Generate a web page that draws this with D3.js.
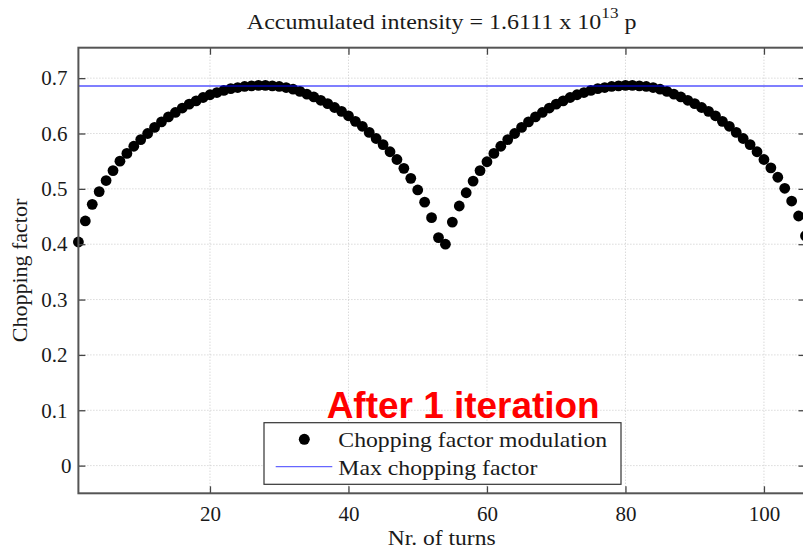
<!DOCTYPE html>
<html>
<head>
<meta charset="utf-8">
<script src="https://cdn.jsdelivr.net/npm/d3@7"></script>
<style>
  html, body { margin: 0; padding: 0; background: #fff; }
  svg { display: block; }
  text { font-family: "Liberation Serif", "Times New Roman", serif; fill: #1a1a1a; }
</style>
</head>
<body>
<div id="chart"></div>
<script>
// Data
const firstTurn = 1;
const lastTurn = 106;
const choppingFactor = [
  0.404, 0.442, 0.472, 0.495, 0.515, 0.533, 0.550, 0.564, 0.577, 0.589,
  0.600, 0.611, 0.621, 0.630, 0.638, 0.646, 0.653, 0.659, 0.665, 0.670,
  0.674, 0.678, 0.681, 0.683, 0.685, 0.686, 0.687, 0.687, 0.686, 0.685,
  0.683, 0.680, 0.676, 0.671, 0.666, 0.660, 0.654, 0.647, 0.640, 0.632,
  0.622, 0.613, 0.602, 0.591, 0.580, 0.567, 0.553, 0.537, 0.519, 0.498,
  0.476, 0.448, 0.412, 0.400, 0.440, 0.469, 0.493, 0.514, 0.533, 0.549,
  0.564, 0.577, 0.589, 0.600, 0.611, 0.621, 0.630, 0.638, 0.646, 0.653,
  0.659, 0.665, 0.670, 0.674, 0.678, 0.681, 0.683, 0.685, 0.686, 0.687,
  0.687, 0.686, 0.685, 0.683, 0.680, 0.676, 0.671, 0.666, 0.660, 0.654,
  0.647, 0.640, 0.632, 0.622, 0.613, 0.602, 0.591, 0.580, 0.567, 0.553,
  0.538, 0.521, 0.501, 0.478, 0.451, 0.415
];
const maxChoppingFactor = 0.686;
const xTicks = [20, 40, 60, 80, 100];
const yTicks = [0, 0.1, 0.2, 0.3, 0.4, 0.5, 0.6, 0.7];
const legendLabels = ["Chopping factor modulation", "Max chopping factor"];

const width = 803, height = 551;
const plot = { left: 78.4, top: 47.7, right: 805.5, bottom: 493.3 };

const svg = d3.select("#chart").append("svg")
  .attr("width", width)
  .attr("height", height);

const x = d3.scaleLinear().domain([firstTurn, lastTurn]).range([plot.left, plot.right]);
const y = d3.scaleLinear().domain([-0.05, 0.755]).range([plot.bottom, plot.top]);

const points = choppingFactor.map((v, i) => ({ turn: firstTurn + i, value: v }));

// stretch a text horizontally around an anchor so it matches the reference width
function stretchTo(sel, targetWidth, anchorX) {
  const bb = sel.node().getBBox();
  const k = targetWidth / bb.width;
  sel.attr("transform", `translate(${anchorX},0) scale(${k},1) translate(${-anchorX},0)`);
}

// grid
const grid = svg.append("g").attr("class", "grid")
  .attr("stroke", "#c8c8c8").attr("stroke-width", 1).attr("stroke-dasharray", "1,2");
grid.selectAll(".gx").data(xTicks).enter().append("line")
  .attr("x1", d => x(d)).attr("x2", d => x(d))
  .attr("y1", plot.top).attr("y2", plot.bottom);
grid.selectAll(".gy").data(yTicks).enter().append("line")
  .attr("x1", plot.left).attr("x2", plot.right)
  .attr("y1", d => y(d)).attr("y2", d => y(d));

// data points
svg.append("g").attr("class", "points")
  .selectAll("circle")
  .data(points)
  .enter()
  .append("circle")
  .attr("cx", d => x(d.turn))
  .attr("cy", d => y(d.value))
  .attr("r", 5.4)
  .attr("fill", "#000");

// max line (semi-transparent blue, drawn on top)
svg.append("line")
  .attr("x1", plot.left).attr("x2", plot.right)
  .attr("y1", y(maxChoppingFactor)).attr("y2", y(maxChoppingFactor))
  .attr("stroke", "rgba(0,0,255,0.5)")
  .attr("stroke-width", 2);

// axes, ticks pointing inward
const fontTick = "21px";
const xAxis = svg.append("g")
  .attr("transform", `translate(0,${plot.bottom})`)
  .call(d3.axisBottom(x).tickValues(xTicks).tickSize(-7).tickPadding(13).tickSizeOuter(0));
const yAxis = svg.append("g")
  .attr("transform", `translate(${plot.left},0)`)
  .call(d3.axisLeft(y).tickValues(yTicks).tickSize(-7).tickPadding(11).tickSizeOuter(0)
    .tickFormat(d => d === 0 ? "0" : d3.format(".1f")(d)));
const xTop = svg.append("g")
  .attr("transform", `translate(0,${plot.top})`)
  .call(d3.axisTop(x).tickValues(xTicks).tickSize(-7).tickFormat("").tickSizeOuter(0));
const yRight = svg.append("g")
  .attr("transform", `translate(${plot.right},0)`)
  .call(d3.axisRight(y).tickValues(yTicks).tickSize(-7).tickFormat("").tickSizeOuter(0));

[xAxis, yAxis, xTop, yRight].forEach(a => {
  a.select(".domain").remove();
  a.selectAll(".tick line").attr("stroke", "#444").attr("stroke-width", 1.3);
  a.selectAll(".tick text")
    .attr("fill", "#1a1a1a")
    .style("font-family", "'Liberation Serif', 'Times New Roman', serif")
    .style("font-size", fontTick);
});
// the zero label sits a little further right in the reference
yAxis.selectAll(".tick text").filter(d => d === 0).attr("dx", 4);

// frame
svg.append("rect")
  .attr("x", plot.left).attr("y", plot.top)
  .attr("width", plot.right - plot.left).attr("height", plot.bottom - plot.top)
  .attr("fill", "none")
  .attr("stroke", "#555")
  .attr("stroke-width", 2);

// title with superscript
const cx = 441.7;
const title = svg.append("text")
  .attr("x", cx).attr("y", 29)
  .attr("text-anchor", "middle")
  .style("font-size", "21px");
title.append("tspan").text("Accumulated intensity = 1.6111 x 10");
title.append("tspan").attr("dy", -10.5).style("font-size", "15px").text("13");
title.append("tspan").attr("dy", 10.5).text(" p");
stretchTo(title, 390, cx);

// axis labels
const xLabel = svg.append("text")
  .attr("x", cx).attr("y", 545)
  .attr("text-anchor", "middle")
  .style("font-size", "21px")
  .text("Nr. of turns");
stretchTo(xLabel, 108, cx);

svg.append("text")
  .attr("transform", `translate(27,${(plot.top + plot.bottom) / 2}) rotate(-90)`)
  .attr("text-anchor", "middle")
  .style("font-size", "22px")
  .text("Chopping factor");

// red annotation
const note = svg.append("text")
  .attr("x", 326.7).attr("y", 418.3)
  .style("font-family", "'Liberation Sans', Arial, sans-serif")
  .style("font-weight", "bold")
  .style("font-size", "37px")
  .style("fill", "#ff0000")
  .text("After 1 iteration");
stretchTo(note, 273, 326.7);

// legend
const legend = svg.append("g").attr("class", "legend");
legend.append("rect")
  .attr("x", 264).attr("y", 422.7)
  .attr("width", 357).attr("height", 61.6)
  .attr("fill", "#fff")
  .attr("stroke", "#333")
  .attr("stroke-width", 1.2);
legend.append("circle")
  .attr("cx", 304.3).attr("cy", 439.3).attr("r", 5.5).attr("fill", "#000");
legend.append("line")
  .attr("x1", 275.7).attr("x2", 332.3)
  .attr("y1", 466.7).attr("y2", 466.7)
  .attr("stroke", "rgba(0,0,255,0.6)").attr("stroke-width", 1.2);
const legendWidths = [269, 200];
const legendBaselines = [446.7, 475];
legendLabels.forEach((lbl, i) => {
  const t = legend.append("text")
    .attr("x", 338.3).attr("y", legendBaselines[i])
    .style("font-size", "22px")
    .text(lbl);
  stretchTo(t, legendWidths[i], 338.3);
});
</script>
</body>
</html>
